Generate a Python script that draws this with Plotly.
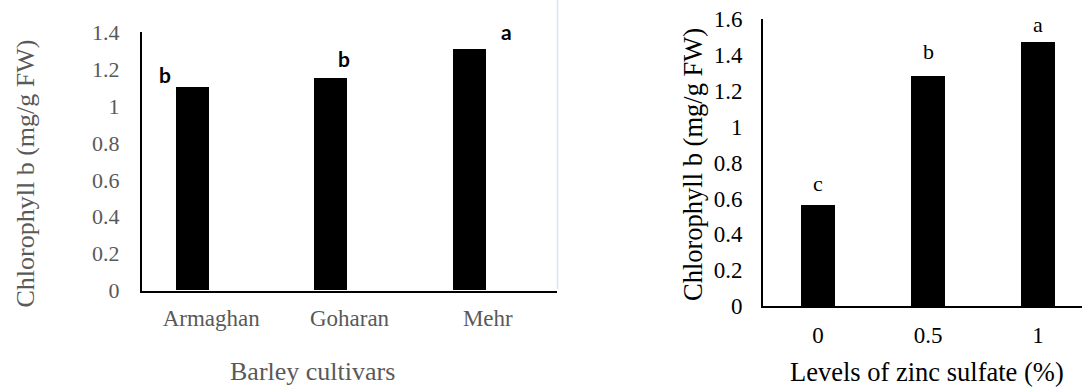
import plotly.graph_objects as go

# ---- data ----
cultivars = ["Armaghan", "Goharan", "Mehr"]
cultivar_chl_b = [1.10, 1.15, 1.31]
cultivar_letters = ["b", "b", "a"]

zinc_levels = ["0", "0.5", "1"]
zinc_chl_b = [0.56, 1.28, 1.47]
zinc_letters = ["c", "b", "a"]

W, H = 1082, 388
SERIF = "Liberation Serif, Times New Roman, Times, DejaVu Serif, serif"
GRAY = "#595959"

fig = go.Figure()

fig.add_trace(go.Bar(
    x=cultivars, y=cultivar_chl_b, xaxis="x", yaxis="y",
    marker=dict(color="black", line=dict(width=0)),
    width=0.24, offset=-0.255, showlegend=False, hoverinfo="x+y",
))
fig.add_trace(go.Bar(
    x=zinc_levels, y=zinc_chl_b, xaxis="x2", yaxis="y2",
    marker=dict(color="black", line=dict(width=0)),
    width=0.31, showlegend=False, hoverinfo="x+y",
))

def px_x(p):
    return p / W

def px_y(p):
    return (H - p) / H

axis_common = dict(showgrid=False, zeroline=False, showline=True, automargin=False,
                   linecolor="black", linewidth=2, ticks="", fixedrange=True)

fig.update_layout(
    width=W, height=H,
    margin=dict(l=0, r=0, t=0, b=0, pad=0, autoexpand=False),
    plot_bgcolor="white", paper_bgcolor="white",
    bargap=0,
    xaxis=dict(domain=[px_x(142), px_x(557)], range=[-0.5, 2.5], type="category",
               tickfont=dict(family=SERIF, size=23, color=GRAY),
               ticklabelstandoff=6, anchor="y", **axis_common),
    yaxis=dict(domain=[px_y(290.5), px_y(32.3)], range=[0, 1.4], tick0=0, dtick=0.2,
               tickfont=dict(family=SERIF, size=22, color=GRAY),
               ticklabelstandoff=16, anchor="x", **axis_common),
    xaxis2=dict(domain=[px_x(763), 1.0], range=[-0.5, 2.4], type="category",
                tickfont=dict(family=SERIF, size=23, color="black"),
                ticklabelstandoff=7, anchor="y2", **axis_common),
    yaxis2=dict(domain=[px_y(306), px_y(19.3)], range=[0, 1.6], tick0=0, dtick=0.2,
                tickfont=dict(family=SERIF, size=23, color="black"),
                ticklabelstandoff=14, anchor="x2", **axis_common),
)

annotations = []
# significance letters, left (bold sans)
left_shifts = [(-27, 13), (13, 20), (37, 17)]
for i, (v, t, (dx, dy)) in enumerate(zip(cultivar_chl_b, cultivar_letters, left_shifts)):
    annotations.append(dict(x=i, y=v, xref="x", yref="y", text=f"<b>{t}</b>",
                            showarrow=False, xshift=dx + (-0.255 + 0.12) * 138.3,
                            yshift=dy, yanchor="middle",
                            font=dict(family="Lato", size=21, color="black")))
# significance letters, right (serif)
right_shifts = [22, 25, 18]
for i, (v, t, dy) in enumerate(zip(zinc_chl_b, zinc_letters, right_shifts)):
    annotations.append(dict(x=i, y=v, xref="x2", yref="y2", text=t,
                            showarrow=False, yshift=dy, yanchor="middle",
                            font=dict(family=SERIF, size=22, color="black")))

# axis titles
annotations += [
    dict(x=px_x(25), y=px_y(173.5), xref="paper", yref="paper", text="Chlorophyll b (mg/g FW)",
         textangle=-90, showarrow=False, xanchor="center", yanchor="middle",
         font=dict(family=SERIF, size=26, color=GRAY)),
    dict(x=px_x(312), y=px_y(371), xref="paper", yref="paper", text="Barley cultivars",
         showarrow=False, xanchor="center", yanchor="middle",
         font=dict(family=SERIF, size=26, color=GRAY)),
    dict(x=px_x(693), y=px_y(165), xref="paper", yref="paper", text="Chlorophyll b (mg/g FW)",
         textangle=-90, showarrow=False, xanchor="center", yanchor="middle",
         font=dict(family=SERIF, size=26.5, color="black")),
    dict(x=px_x(927), y=px_y(372), xref="paper", yref="paper", text="Levels of zinc sulfate (%)",
         showarrow=False, xanchor="center", yanchor="middle",
         font=dict(family=SERIF, size=26.5, color="black")),
]
fig.update_layout(annotations=annotations)

# faint border line at right edge of left panel
fig.add_shape(type="line", xref="paper", yref="paper",
              x0=px_x(557.5), x1=px_x(557.5), y0=px_y(289), y1=1.0,
              line=dict(color="#d6e3f3", width=1.5))

fig.write_html("out.html", config={"displayModeBar": False},
               post_script="document.body.style.margin='0';document.body.style.overflow='hidden';")
